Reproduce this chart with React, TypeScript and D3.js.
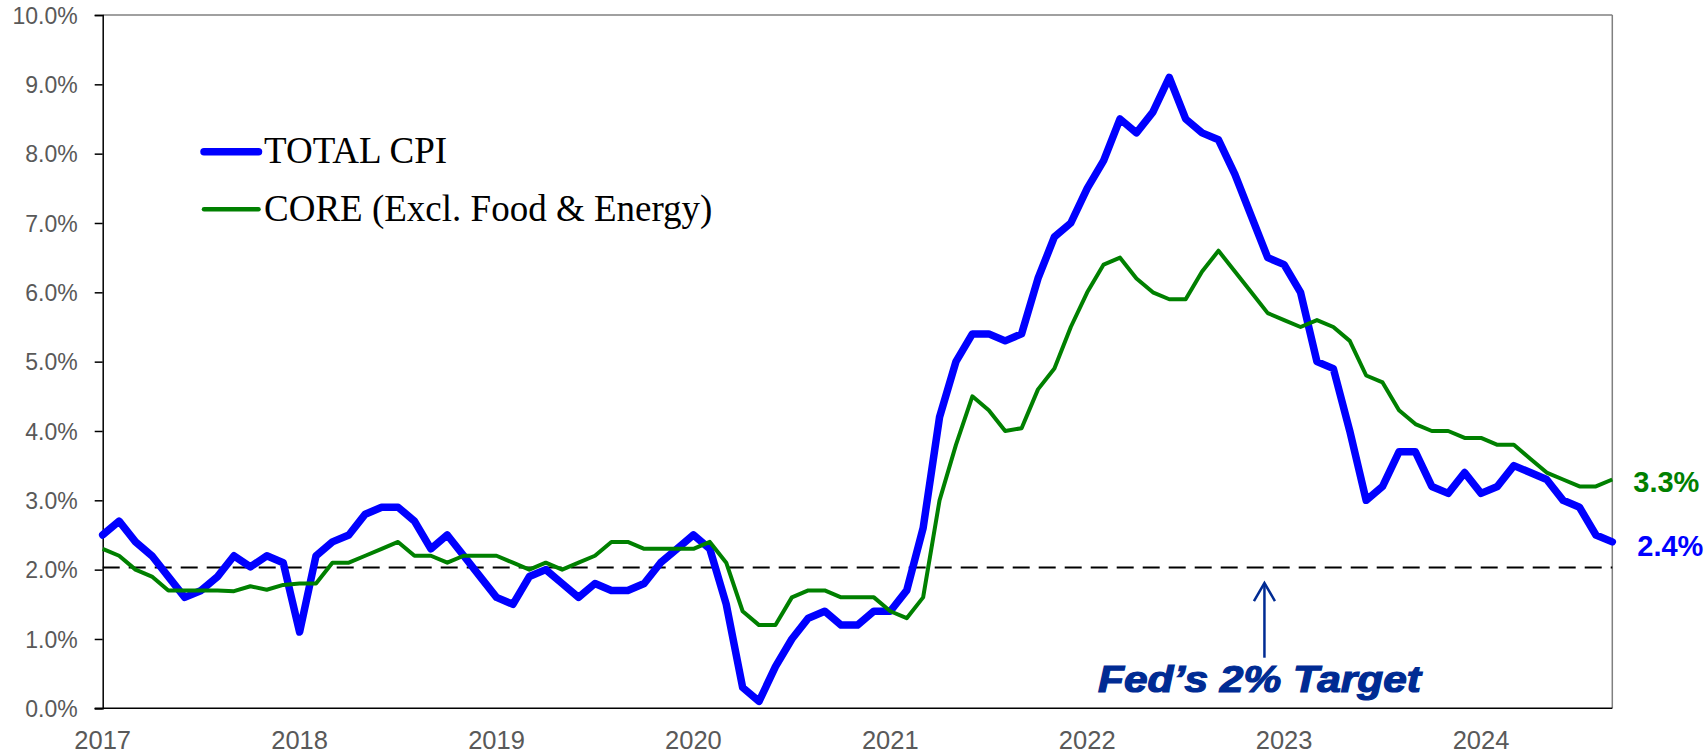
import React, { useEffect, useRef } from 'react';
import * as d3 from 'd3';

// Monthly year-over-year % change, Jan 2017 .. Sep 2024
const YEARS = [2017, 2018, 2019, 2020, 2021, 2022, 2023, 2024];
const Y_TICKS = [0, 1, 2, 3, 4, 5, 6, 7, 8, 9, 10];

const TOTAL_CPI = [
  2.5, 2.7, 2.4, 2.2, 1.9, 1.6, 1.7, 1.9, 2.2, 2.04, 2.2, 2.1,
  1.1, 2.2, 2.4, 2.5, 2.8, 2.9, 2.9, 2.7, 2.3, 2.5, 2.2, 1.9,
  1.6, 1.5, 1.9, 2.0, 1.8, 1.6, 1.8, 1.7, 1.7, 1.8, 2.1, 2.3,
  2.5, 2.3, 1.5, 0.3, 0.1, 0.6, 1.0, 1.3, 1.4, 1.2, 1.2, 1.4,
  1.4, 1.7, 2.6, 4.2, 5.0, 5.4, 5.4, 5.3, 5.4, 6.2, 6.8, 7.0,
  7.5, 7.9, 8.5, 8.3, 8.6, 9.1, 8.5, 8.3, 8.2, 7.7, 7.1, 6.5,
  6.4, 6.0, 5.0, 4.9, 4.0, 3.0, 3.2, 3.7, 3.7, 3.2, 3.1, 3.4,
  3.1, 3.2, 3.5, 3.4, 3.3, 3.0, 2.9, 2.5, 2.4,
];

const CORE_CPI = [
  2.3, 2.2, 2.0, 1.9, 1.7, 1.7, 1.7, 1.7, 1.69, 1.76, 1.71, 1.78,
  1.8, 1.8, 2.1, 2.1, 2.2, 2.3, 2.4, 2.2, 2.2, 2.1, 2.2, 2.2,
  2.2, 2.1, 2.0, 2.1, 2.0, 2.1, 2.2, 2.4, 2.4, 2.3, 2.3, 2.3,
  2.3, 2.4, 2.1, 1.4, 1.2, 1.2, 1.6, 1.7, 1.7, 1.6, 1.6, 1.6,
  1.4, 1.3, 1.6, 3.0, 3.8, 4.5, 4.3, 4.0, 4.04, 4.6, 4.9, 5.5,
  6.0, 6.4, 6.5, 6.2, 6.0, 5.9, 5.9, 6.3, 6.6, 6.3, 6.0, 5.7,
  5.6, 5.5, 5.6, 5.5, 5.3, 4.8, 4.7, 4.3, 4.1, 4.0, 4.0, 3.9,
  3.9, 3.8, 3.8, 3.6, 3.4, 3.3, 3.2, 3.2, 3.3,
];

const FED_TARGET = 2.03;
const ARROW_MONTH = 70.8;

const BLUE = '#0000ff';
const GREEN = '#008000';
const NAVY = '#002b93';
const SANS = 'Arial, "Liberation Sans", sans-serif';
const SERIF = '"Times New Roman", "Liberation Serif", serif';

const App = () => {
  const ref = useRef<SVGSVGElement | null>(null);

  useEffect(() => {
    document.body.style.margin = '0';
    if (!ref.current) return;
    const svg = d3.select(ref.current);
    svg.selectAll('*').remove();

    const left = 102.7;
    const right = 1612.3;
    const top = 15;
    const bottom = 708.3;

    const x = d3.scaleLinear().domain([0, TOTAL_CPI.length - 1]).range([left, right]);
    const y = d3.scaleLinear().domain([0, 10]).range([bottom, top]);

    // frame: top & right gray
    svg.append('line').attr('x1', left).attr('x2', right).attr('y1', top).attr('y2', top)
      .attr('stroke', '#808080').attr('stroke-width', 1.5);
    svg.append('line').attr('x1', right).attr('x2', right).attr('y1', top).attr('y2', bottom)
      .attr('stroke', '#808080').attr('stroke-width', 1.5);

    // y axis
    const yAxis = d3.axisLeft(y).tickValues(Y_TICKS).tickSize(8).tickPadding(17)
      .tickFormat((d) => `${(+d).toFixed(1)}%`);
    const gy = svg.append('g').attr('transform', `translate(${left},0)`).call(yAxis);
    gy.select('.domain').attr('stroke', '#000').attr('stroke-width', 1.5);
    gy.selectAll('.tick line').attr('stroke', '#000').attr('stroke-width', 1.5);
    gy.selectAll('.tick text').attr('fill', '#595959').attr('dy', '0.36em')
      .style('font-size', '23px').style('font-family', SANS);

    // x axis (labels only)
    svg.append('line').attr('x1', left - 8).attr('x2', right).attr('y1', bottom).attr('y2', bottom)
      .attr('stroke', '#000').attr('stroke-width', 1.5);
    svg.append('g').selectAll('text').data(YEARS).enter().append('text')
      .attr('x', (_d, i) => x(i * 12))
      .attr('y', 748.5)
      .attr('text-anchor', 'middle')
      .attr('fill', '#595959')
      .style('font-size', '25.5px')
      .style('font-family', SANS)
      .text((d) => String(d));

    // Fed target dashed line
    svg.append('line').attr('x1', left).attr('x2', right)
      .attr('y1', y(FED_TARGET)).attr('y2', y(FED_TARGET))
      .attr('stroke', '#000').attr('stroke-width', 2).attr('stroke-dasharray', '17,9');

    const line = d3.line<number>().x((_d, i) => x(i)).y((d) => y(d));

    svg.append('path').datum(TOTAL_CPI).attr('d', line)
      .attr('fill', 'none').attr('stroke', BLUE).attr('stroke-width', 7.5)
      .attr('stroke-linejoin', 'round').attr('stroke-linecap', 'round');

    svg.append('path').datum(CORE_CPI).attr('d', line)
      .attr('fill', 'none').attr('stroke', GREEN).attr('stroke-width', 4)
      .attr('stroke-linejoin', 'round');

    // end labels
    const last = TOTAL_CPI.length - 1;
    svg.append('text').attr('x', right + 21).attr('y', y(CORE_CPI[last]) + 12)
      .attr('fill', GREEN).style('font-size', '29px').style('font-weight', 'bold').style('font-family', SANS)
      .text(`${CORE_CPI[last].toFixed(1)}%`);
    svg.append('text').attr('x', right + 25).attr('y', y(TOTAL_CPI[last]) + 14)
      .attr('fill', BLUE).style('font-size', '29px').style('font-weight', 'bold').style('font-family', SANS)
      .text(`${TOTAL_CPI[last].toFixed(1)}%`);

    // arrow + annotation
    const ax = x(ARROW_MONTH);
    const tipY = y(FED_TARGET) + 15.5;
    svg.append('line').attr('x1', ax).attr('x2', ax).attr('y1', tipY).attr('y2', 657.7)
      .attr('stroke', NAVY).attr('stroke-width', 2.5);
    svg.append('path').attr('d', `M${ax - 10.5},${tipY + 18} L${ax},${tipY} L${ax + 10.5},${tipY + 18}`)
      .attr('fill', 'none').attr('stroke', NAVY).attr('stroke-width', 2.5);
    svg.append('text').attr('x', 1098).attr('y', 691.7)
      .attr('fill', NAVY).attr('stroke', NAVY).attr('stroke-width', 1.2)
      .attr('textLength', 323).attr('lengthAdjust', 'spacingAndGlyphs')
      .style('font-size', '36px').style('font-weight', 'bold').style('font-style', 'italic').style('font-family', SANS)
      .text('Fed\u2019s 2% Target');

    // legend
    const legend = [
      { label: 'TOTAL CPI', color: BLUE, width: 7.5, ly: 151.7, ty: 162.7 },
      { label: 'CORE (Excl. Food & Energy)', color: GREEN, width: 4.5, ly: 209.3, ty: 220.5 },
    ];
    legend.forEach((d) => {
      svg.append('line').attr('x1', 204).attr('x2', 258.5).attr('y1', d.ly).attr('y2', d.ly)
        .attr('stroke', d.color).attr('stroke-width', d.width).attr('stroke-linecap', 'round');
      svg.append('text').attr('x', 264).attr('y', d.ty)
        .attr('fill', '#000').style('font-size', '37px').style('font-family', SERIF)
        .text(d.label);
    });
  }, []);

  return <svg ref={ref} width={1705} height={752} style={{ display: 'block' }} />;
};

export default App;
